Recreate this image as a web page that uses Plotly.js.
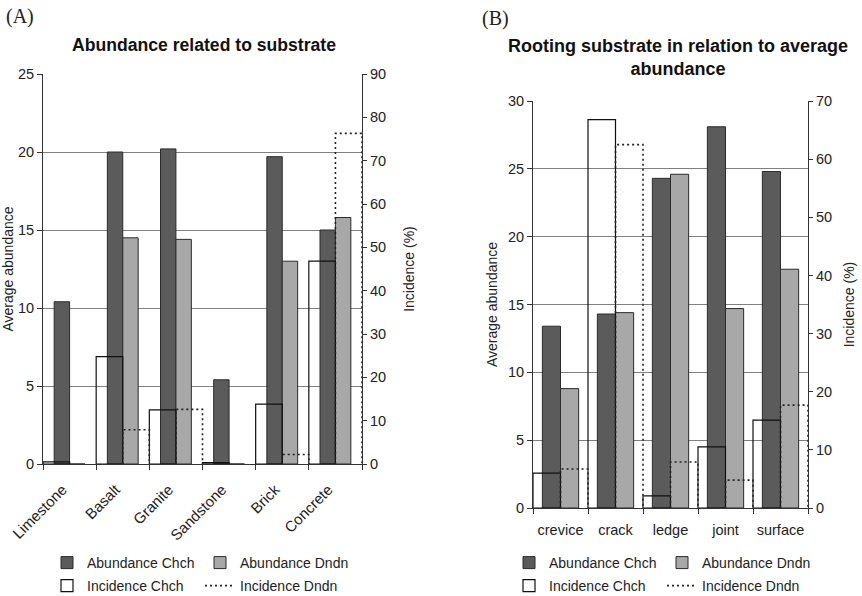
<!DOCTYPE html>
<html>
<head>
<meta charset="utf-8">
<script src="https://cdn.plot.ly/plotly-3.0.1.min.js"></script>
<style>html,body{margin:0;padding:0;background:#fff}#chart{width:862px;height:596px}</style>
</head>
<body>
<div id="chart"></div>
<script>
// ---- Data: panel A (substrate) ----
const substrates = ["Limestone", "Basalt", "Granite", "Sandstone", "Brick", "Concrete"];
const abundChchA = [10.4, 20.0, 20.2, 5.4, 19.7, 15.0];
const abundDndnA = [0, 14.5, 14.4, 0, 13.0, 15.8];
const incidChchA = [0.5, 24.8, 12.5, 0.3, 13.8, 46.8];
const incidDndnA = [0, 7.9, 12.6, 0, 2.2, 76.3];

// ---- Data: panel B (rooting substrate) ----
const rooting = ["crevice", "crack", "ledge", "joint", "surface"];
const abundChchB = [13.4, 14.3, 24.3, 28.1, 24.8];
const abundDndnB = [8.8, 14.4, 24.6, 14.7, 17.6];
const incidChchB = [6.0, 66.8, 2.1, 10.5, 15.1];
const incidDndnB = [6.7, 62.5, 7.9, 4.8, 17.7];

const W = 862, H = 596;
const px = v => v / W;
const py = v => 1 - v / H;
const FONT = "Liberation Sans, Arial, sans-serif";
const DARK = "#5b5b5b", LIGHT = "#a8a8a8", EDGE = "#2b2b2b";

function idx(arr) { return arr.map((_, i) => i); }
function bounds(arr) { return arr.map((_, i) => i - 0.5).concat([arr.length - 0.5]); }
// dashed outline of a bar drawn through the axis scales
function outline(vals) {
  const xs = [], ys = [];
  vals.forEach((v, i) => {
    if (v > 0) { xs.push(i, i, i + 0.5, i + 0.5, null); ys.push(0, v, v, 0, null); }
  });
  return {xs, ys};
}

function panel(cats, aC, aD, iC, iD, xa, ya, yb, bw, lgA, lgB) {
  const x = idx(cats);
  const o = outline(iD);
  return [
    {type: "bar", name: "Abundance Chch", x: x, y: aC, xaxis: xa, yaxis: ya, width: bw, offset: -bw,
     marker: {color: DARK, line: {color: EDGE, width: 1}}, legend: lgA},
    {type: "bar", name: "Abundance Dndn", x: x, y: aD, xaxis: xa, yaxis: ya, width: bw, offset: 0,
     marker: {color: LIGHT, line: {color: EDGE, width: 1}}, legend: lgA},
    {type: "bar", name: "Incidence Chch", x: x, y: iC, xaxis: xa, yaxis: yb, width: 0.5, offset: -0.5,
     marker: {color: "rgba(0,0,0,0)", line: {color: "#111", width: 1.2}}, legend: lgB},
    {type: "scatter", mode: "lines", name: "Incidence Dndn", x: o.xs, y: o.ys, xaxis: xa, yaxis: yb,
     line: {color: "#222", width: 1.6, dash: "2px,3px"}, connectgaps: false, legend: lgB, hoverinfo: "skip"}
  ];
}

const data = [].concat(
  panel(substrates, abundChchA, abundDndnA, incidChchA, incidDndnA, "x", "y", "y2", 0.29, "legend", "legend2"),
  panel(rooting, abundChchB, abundDndnB, incidChchB, incidDndnB, "x2", "y3", "y4", 0.33, "legend3", "legend4")
);

const tickFont = {family: FONT, size: 14.5, color: "#222"};
function xAxis(cats, dom, anchor, angle, standoff, shift, fsize) {
  return {domain: dom, anchor: anchor, range: [-0.5, cats.length - 0.5], tickmode: "array",
    tickvals: idx(cats), ticktext: cats, tickangle: angle, ticks: "", showgrid: false, zeroline: false,
    showline: true, linecolor: "#333", linewidth: 1, tickfont: {family: FONT, size: fsize, color: "#222"},
    ticklabelstandoff: standoff, ticklabelshift: shift,
    minor: {tickmode: "array", tickvals: bounds(cats), ticks: "outside", ticklen: 5, tickcolor: "#333", showgrid: false}};
}
function yLeft(dom, anchor, max, title, standoff) {
  return {domain: dom, anchor: anchor, range: [0, max], dtick: 5, tick0: 0, ticks: "outside", ticklen: 5,
    tickcolor: "#333", showline: true, linecolor: "#333", showgrid: true, gridcolor: "#808080", gridwidth: 1,
    zeroline: false, tickfont: tickFont, title: {text: title, font: {family: FONT, size: 14, color: "#222"}, standoff: standoff}};
}
function yRight(over, anchor, max, title, standoff) {
  return {overlaying: over, side: "right", anchor: anchor, range: [0, max], dtick: 10, tick0: 0,
    ticks: "outside", ticklen: 4, tickcolor: "#333", showline: true, linecolor: "#333", showgrid: false,
    zeroline: false, tickfont: tickFont, title: {text: title, font: {family: FONT, size: 14, color: "#222"}, standoff: standoff}};
}
// inward half of the crossing tick marks on the right-hand axes
function yRightInner(over, anchor, max) {
  return {overlaying: over, side: "right", anchor: anchor, range: [0, max], dtick: 10, tick0: 0,
    ticks: "inside", ticklen: 4, tickcolor: "#333", showline: false, showgrid: false, zeroline: false,
    showticklabels: false};
}
function legendAt(x, yFromBottom) {
  return {orientation: "h", x: px(x), y: yFromBottom / H, xanchor: "left", yanchor: "bottom", xref: "paper", yref: "paper",
    font: {family: FONT, size: 14, color: "#222"}, entrywidth: 108, itemwidth: 30, bgcolor: "rgba(0,0,0,0)",
    itemclick: false, itemdoubleclick: false};
}

const layout = {
  width: W, height: H, margin: {l: 0, r: 0, t: 0, b: 0, autoexpand: false},
  paper_bgcolor: "#fff", plot_bgcolor: "#fff",
  barmode: "overlay", hovermode: "closest",
  font: {family: FONT, size: 14, color: "#222"},
  xaxis: xAxis(substrates, [px(43), px(362)], "y", -45, 10, -7, 15),
  yaxis: yLeft([py(464), py(74)], "x", 25, "Average abundance", 1),
  yaxis2: yRight("y", "x", 90, "Incidence (%)", 19),
  yaxis5: yRightInner("y", "x", 90),
  xaxis2: xAxis(rooting, [px(533), px(808)], "y3", 0, 9, 0, 14.5),
  yaxis3: yLeft([py(508), py(101)], "x2", 30, "Average abundance", 7),
  yaxis4: yRight("y3", "x2", 70, "Incidence (%)", 13),
  yaxis6: yRightInner("y3", "x2", 70),
  legend: legendAt(47, 17),
  legend2: legendAt(47, -6),
  legend3: legendAt(509, 17),
  legend4: legendAt(509, -6),
  annotations: [
    {text: "(A)", x: px(4), y: py(17), xref: "paper", yref: "paper", xanchor: "left", yanchor: "middle",
     showarrow: false, font: {family: "Liberation Serif, serif", size: 20, color: "#222"}},
    {text: "(B)", x: px(480), y: py(18), xref: "paper", yref: "paper", xanchor: "left", yanchor: "middle",
     showarrow: false, font: {family: "Liberation Serif, serif", size: 20, color: "#222"}},
    {text: "Abundance related to substrate", x: px(204), y: py(45), xref: "paper", yref: "paper",
     xanchor: "center", yanchor: "middle", showarrow: false,
     font: {family: FONT, size: 17.6, color: "#111", weight: "bold"}},
    {text: "Rooting substrate in relation to average<br>abundance", x: px(678), y: py(57), xref: "paper", yref: "paper",
     xanchor: "center", yanchor: "middle", showarrow: false,
     font: {family: FONT, size: 18, color: "#111", weight: "bold"}}
  ]
};

Plotly.newPlot("chart", data, layout, {displayModeBar: false, responsive: false});
</script>
</body>
</html>
